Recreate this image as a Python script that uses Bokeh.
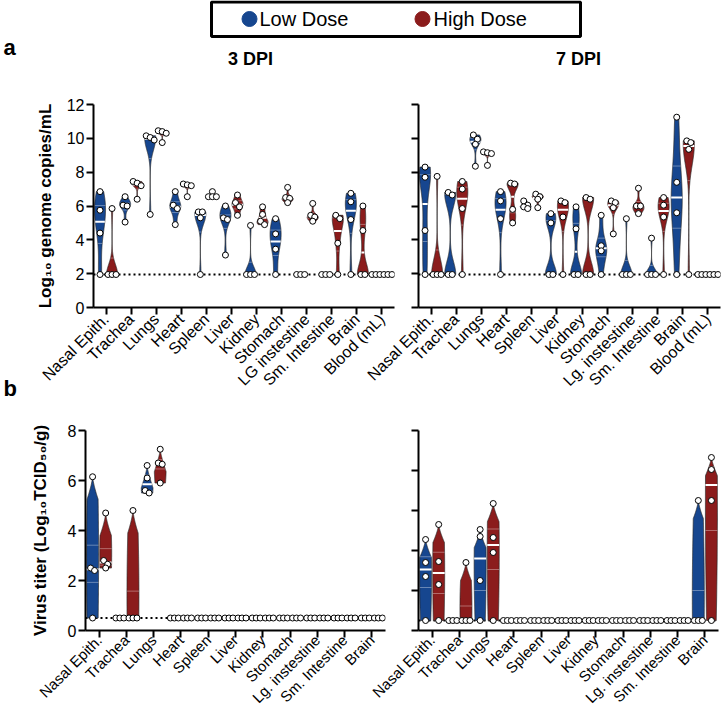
import math
import numpy as np
from bokeh.plotting import figure
from bokeh.models import Range1d, FixedTicker, Span
from bokeh.layouts import row, column
from bokeh.embed import file_html
from bokeh.resources import INLINE
from bokeh.core.properties import value

# ---------------- data ----------------
organs_a_3dpi = ["Nasal Epith.", "Trachea", "Lungs", "Heart", "Spleen", "Liver", "Kidney",
                 "Stomach", "LG instestine", "Sm. Intestine", "Brain", "Blood (mL)"]
organs_a_7dpi = ["Nasal Epith.", "Trachea", "Lungs", "Heart", "Spleen", "Liver", "Kidney",
                 "Stomach", "Lg. instestine", "Sm. Intestine", "Brain", "Blood (mL)"]
organs_b = ["Nasal Epith.", "Trachea", "Lungs", "Heart", "Spleen", "Liver", "Kidney",
            "Stomach", "Lg. instestine", "Sm. Intestine", "Brain"]

LOD_GENOME = 1.95
LOD_TITER = 0.5

genome_3dpi_low = [[6.85, 5.75, 4.4, 1.95], [6.55, 6.05, 6.0, 5.05], [10.15, 10.05, 9.9, 5.5],
                   [6.85, 6.05, 5.85, 4.9], [5.65, 5.65, 5.3, 1.95], [6.0, 5.3, 5.2, 3.1],
                   [4.85, 1.95, 1.95, 1.95], [5.25, 4.35, 3.45, 1.95], [1.95, 1.95, 1.95],
                   [1.95, 1.95, 1.95], [6.75, 6.25, 5.2, 1.95], [1.95, 1.95, 1.95]]
genome_3dpi_high = [[5.85, 1.95, 1.95, 1.95], [7.45, 7.35, 7.2, 6.4], [10.45, 10.4, 10.3, 9.75],
                    [7.3, 7.25, 7.2, 6.55], [6.85, 6.55, 6.55, 6.55], [6.65, 6.2, 5.95, 5.45],
                    [5.95, 5.5, 5.1, 4.9], [7.1, 6.5, 6.45, 6.2], [6.15, 5.45, 5.35, 5.1],
                    [5.45, 5.25, 3.8, 1.95], [6.0, 4.55, 1.95, 1.95], [1.95, 1.95, 1.95]]
genome_7dpi_low = [[8.3, 7.7, 4.55, 1.95], [6.8, 6.65, 1.95, 1.95], [10.2, 9.95, 9.65, 8.35],
                   [6.85, 6.3, 5.25, 1.95], [6.3, 6.05, 5.95, 5.85], [5.55, 5.0, 1.95, 1.95],
                   [5.95, 4.65, 1.95, 1.95], [5.45, 3.65, 3.35, 1.95], [5.25, 1.95, 1.95, 1.95],
                   [4.1, 1.95, 1.95, 1.95], [11.25, 7.4, 5.6, 1.95], [1.95, 1.95, 1.95]]
genome_7dpi_high = [[7.75, 1.95, 1.95, 1.95], [7.45, 7.0, 5.85, 1.95], [9.2, 9.15, 9.1, 8.4],
                    [7.35, 7.3, 5.8, 5.0], [6.7, 6.55, 6.4, 5.9], [6.3, 6.2, 5.35, 1.95],
                    [6.5, 6.4, 1.95, 1.95], [6.3, 6.2, 5.9, 4.35], [7.05, 6.0, 6.0, 5.55],
                    [6.5, 6.05, 5.35, 1.95], [9.85, 9.75, 9.35, 1.95], [1.95, 1.95, 1.95]]

titer_3dpi_low = [[6.15, 2.5, 2.4, 0.5], [0.5, 0.5, 0.5], [6.6, 6.1, 5.6, 5.5],
                  [0.5, 0.5, 0.5], [0.5, 0.5, 0.5], [0.5, 0.5, 0.5], [0.5, 0.5, 0.5],
                  [0.5, 0.5, 0.5], [0.5, 0.5, 0.5], [0.5, 0.5, 0.5], [0.5, 0.5, 0.5]]
titer_3dpi_high = [[4.7, 2.8, 2.65, 2.5], [4.8, 0.5, 0.5, 0.5], [7.25, 6.7, 6.65, 5.9],
                   [0.5, 0.5, 0.5], [0.5, 0.5, 0.5], [0.5, 0.5, 0.5], [0.5, 0.5, 0.5],
                   [0.5, 0.5, 0.5], [0.5, 0.5, 0.5], [0.5, 0.5, 0.5], [0.5, 0.5, 0.5]]
titer_7dpi_low = [[4.55, 3.4, 2.7, 0.5], [0.5, 0.5, 0.5], [5.05, 4.7, 2.5, 0.5],
                  [0.5, 0.5, 0.5], [0.5, 0.5, 0.5], [0.5, 0.5, 0.5], [0.5, 0.5, 0.5],
                  [0.5, 0.5, 0.5], [0.5, 0.5, 0.5], [0.5, 0.5, 0.5], [6.5, 0.5, 0.5, 0.5]]
titer_7dpi_high = [[5.3, 3.45, 2.3, 0.5], [3.4, 0.5, 0.5, 0.5], [6.35, 4.65, 3.9, 0.5],
                   [0.5, 0.5, 0.5], [0.5, 0.5, 0.5], [0.5, 0.5, 0.5], [0.5, 0.5, 0.5],
                   [0.5, 0.5, 0.5], [0.5, 0.5, 0.5], [0.5, 0.5, 0.5], [8.65, 8.05, 6.5, 0.5]]

genome_ticks = [0, 2, 4, 6, 8, 10, 12]
titer_ticks_3dpi = [0, 2, 4, 6, 8]
titer_ticks_7dpi = [0, 2, 4, 6, 8, 10]

# ---------------- style ----------------
BLUE = "#16468f"
RED = "#8b1c1c"
FONT = "Liberation Sans"
HALFW = 0.22
OFFSET = 0.24


def beeswarm(vals, px_x, px_y, step_px=4.0, thr_px=4.5):
    order = sorted(vals, reverse=True)
    clusters = []
    for v in order:
        if clusters and abs(clusters[-1][0] - v) * px_y < thr_px:
            clusters[-1].append(v)
        else:
            clusters.append([v])
    dx, ys = [], []
    for c in clusters:
        k = len(c)
        for i, v in enumerate(c):
            dx.append((i - (k - 1) / 2.0) * step_px / px_x)
            ys.append(v)
    return dx, ys


def make_panel(cats, low, high, lod, ymax, yticks, width, height, borders,
               show_ylabels, ylabel, bw_frac, power, taper, label_standoff, frame_w, frame_h,
               xfont, xstandoff):
    n = len(cats)
    bl, br, bt, bb = borders
    p = figure(width=width, height=height, x_range=Range1d(-0.5, n - 0.5),
               y_range=Range1d(0, ymax), output_backend="svg", toolbar_location=None,
               min_border_left=bl, min_border_right=br, min_border_top=bt,
               min_border_bottom=bb)
    p.xgrid.visible = False
    p.ygrid.visible = False
    p.outline_line_color = None
    p.background_fill_color = None
    p.border_fill_color = None

    px_x = frame_w / float(n)
    px_y = frame_h / float(ymax)

    p.add_layout(Span(location=lod, dimension="width", line_color="black", line_width=2,
                      line_dash="2 3", level="underlay"))

    pxs, pys, pcol = [], [], []
    seg = {"x0": [], "x1": [], "y": [], "w": [], "a": []}
    ptx, pty = [], []
    for i in range(n):
        for vals, off, col in ((low[i], -OFFSET, BLUE), (high[i], OFFSET, RED)):
            center = i + off
            v = np.asarray(vals, float)
            lo, hi = v.min(), v.max()
            if hi - lo > 1e-6:
                ys = np.linspace(lo, hi, 160)
                h = bw_frac * (hi - lo)
                d = np.exp(-0.5 * ((ys[:, None] - v[None, :]) / h) ** 2).sum(axis=1)
                w = (d / d.max()) ** power
                if taper > 0:
                    s = np.clip((hi - ys) / taper, 0, 1)
                    w = w * s ** 1.3
                w = w * HALFW
                pxs.append(list(np.concatenate([center - w, (center + w)[::-1]])))
                pys.append(list(np.concatenate([ys, ys[::-1]])))
                pcol.append(col)
                med = float(np.median(v))
                q1, q3 = np.percentile(v, [25, 75])
                for yv, lw, a in ((q1, 1, 0.35), (q3, 1, 0.35), (med, 2, 1.0)):
                    hw = float(np.interp(yv, ys, w))
                    if hw > 0.02:
                        seg["x0"].append(center - hw)
                        seg["x1"].append(center + hw)
                        seg["y"].append(float(yv))
                        seg["w"].append(lw)
                        seg["a"].append(a)
            dx, yy = beeswarm(vals, px_x, px_y)
            ptx += [center + d_ for d_ in dx]
            pty += yy

    p.patches(xs=pxs, ys=pys, fill_color=pcol, line_color="#2a2a2a", line_width=0.7)
    p.segment(x0=seg["x0"], x1=seg["x1"], y0=seg["y"], y1=seg["y"], line_color="white",
              line_width=seg["w"], line_alpha=seg["a"])
    p.scatter(x=ptx, y=pty, size=6, fill_color="white", line_color="black", line_width=1)

    xa = p.xaxis[0]
    xa.ticker = FixedTicker(ticks=list(range(n)))
    xa.major_label_overrides = {i: c for i, c in enumerate(cats)}
    xa.major_label_orientation = math.pi / 4
    xa.major_label_text_font = FONT
    xa.major_label_text_font_size = xfont
    xa.major_label_text_color = "black"
    xa.major_label_standoff = xstandoff
    xa.major_tick_out = 7
    xa.major_tick_in = 0
    xa.minor_tick_line_color = None
    xa.axis_line_width = 2
    xa.major_tick_line_width = 2

    ya = p.yaxis[0]
    ya.ticker = FixedTicker(ticks=yticks)
    ya.major_tick_out = 7
    ya.major_tick_in = 0
    ya.minor_tick_line_color = None
    ya.axis_line_width = 2
    ya.major_tick_line_width = 2
    ya.major_label_text_font = FONT
    ya.major_label_text_font_size = "16px"
    ya.major_label_text_color = "black"
    ya.major_label_standoff = 2
    if not show_ylabels:
        ya.major_label_overrides = {t: "" for t in yticks}
    if ylabel:
        ya.axis_label = ylabel
        ya.axis_label_text_font = FONT
        ya.axis_label_text_font_style = "bold"
        ya.axis_label_text_font_size = "17px"
        ya.axis_label_text_color = "black"
        ya.axis_label_standoff = label_standoff
    return p


# top row (genome copies)
tl = make_panel(organs_a_3dpi, genome_3dpi_low, genome_3dpi_high, LOD_GENOME, 12, genome_ticks,
                378, 306, (75, 2, 8, 95), True,
                "Log\u2081\u2080 genome copies/mL", 0.22, 2.0, 0.0, 9, 301, 203, "16px", 2)
tr = make_panel(organs_a_7dpi, genome_7dpi_low, genome_7dpi_high, LOD_GENOME, 12, genome_ticks,
                359, 306, (55, 2, 8, 95), False, None,
                0.22, 2.0, 0.0, 9, 302, 203, "16px", 2)
tr.margin = (0, 0, 0, -33)

# bottom row (virus titer)
bl_ = make_panel(organs_b, titer_3dpi_low, titer_3dpi_high, LOD_TITER, 8, titer_ticks_3dpi,
                 369, 314, (67, 2, 28, 86), True,
                 "Virus titer (Log\u2081\u2080TCID\u2085\u2080/g)", 1.0, 1.0, 0.9, 15,
                 300, 199, "15px", 0)
br_ = make_panel(organs_b, titer_7dpi_low, titer_7dpi_high, LOD_TITER, 10, titer_ticks_7dpi,
                 359, 314, (55, 4, 28, 86), False, None,
                 1.0, 1.0, 0.9, 15, 300, 199, "15px", 0)
br_.margin = (0, 0, 0, -24)

# header with legend and panel titles
HW, HH = 704, 96
header = figure(width=HW, height=HH, x_range=Range1d(0, HW), y_range=Range1d(HH, 0),
                x_axis_type=None, y_axis_type=None, output_backend="svg",
                toolbar_location=None, min_border=0)
header.grid.visible = False
header.outline_line_color = None
header.quad(left=[193], right=[562], top=[1.5], bottom=[36], fill_color=None,
            line_color="black", line_width=3)
header.scatter(x=[231, 404], y=[18.5, 18.5], size=15, color=[BLUE, RED])
header.text(x=[241, 415], y=[18.5, 18.5], text=["Low Dose", "High Dose"], text_font=value(FONT),
            text_font_size="20px", text_baseline="middle", text_align="left", text_color="black")
header.text(x=[232, 560], y=[58, 58], text=["3 DPI", "7 DPI"], text_font=value(FONT),
            text_font_size="18px", text_font_style="bold", text_baseline="middle",
            text_align="center", text_color="black")

# left strip with panel letters
strip = figure(width=18, height=716, x_range=Range1d(0, 18), y_range=Range1d(716, 0),
               x_axis_type=None, y_axis_type=None, output_backend="svg",
               toolbar_location=None, min_border=0)
strip.grid.visible = False
strip.outline_line_color = None
strip.text(x=[3, 3], y=[47, 388], text=["a", "b"], text_font=value(FONT),
           text_font_size="22px", text_font_style="bold", text_baseline="middle",
           text_align="left", text_color="black")

layout = row(strip, column(header, row(tl, tr), row(bl_, br_)))

open("out.html", "w").write(file_html(layout, INLINE))
